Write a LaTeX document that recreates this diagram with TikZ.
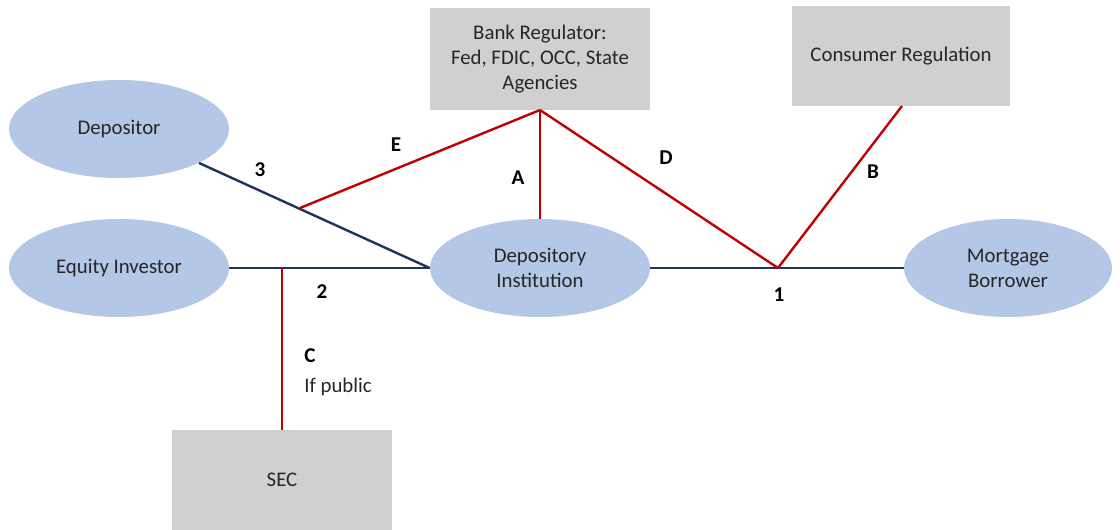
\documentclass[tikz,border=0pt]{standalone}
\usepackage{fontspec}
\setmainfont{Carlito}
\usepackage{xcolor}
\usetikzlibrary{shapes.geometric}

\definecolor{partyblue}{RGB}{180,199,231}
\definecolor{regray}{RGB}{208,208,208}
\definecolor{linkblue}{RGB}{31,50,96}
\definecolor{regred}{RGB}{192,0,0}
\definecolor{txtgray}{RGB}{38,38,38}

\begin{document}
\begin{tikzpicture}[
    x=0.025cm, y=-0.025cm,
    party/.style={ellipse, fill=partyblue, draw=none, inner sep=0pt, align=center,
        minimum width=5.5cm, minimum height=2.45cm, text=txtgray,
        font=\fontsize{14.8}{17.8}\selectfont},
    regbox/.style={rectangle, fill=regray, draw=none, inner sep=0pt, align=center,
        text=txtgray, font=\fontsize{14.8}{17.8}\selectfont},
    link/.style={draw=linkblue, line width=1.7pt},
    reg/.style={draw=regred, line width=1.7pt},
    lbl/.style={text=black, inner sep=0pt, font=\fontsize{15}{17.8}\selectfont\bfseries},
]
    \useasboundingbox (0,0) rectangle (1120,529);

    % Parties
    \node[party] (dep) at (119,129) {Depositor};
    \node[party] (eqi) at (119,268) {Equity Investor};
    \node[party] (inst) at (540,268) {Depository\\Institution};
    \node[party, minimum width=5.2cm] (mort) at (1008,268) {Mortgage\\Borrower};

    % Regulators
    \node[regbox, minimum width=5.5cm, minimum height=2.55cm] (bank) at (540,59) {Bank Regulator:\\Fed, FDIC, OCC, State\\Agencies};
    \node[regbox, minimum width=5.45cm, minimum height=2.5cm] (cons) at (901,56) {Consumer Regulation};
    \node[regbox, minimum width=5.475cm, minimum height=2.5cm] (sec) at (282,480) {SEC};

    % Junctions
    \coordinate (jE) at (300,208);
    \coordinate (jC) at (282,268);
    \coordinate (j1) at (778,268);
    \coordinate (bankfoot) at (540,110);
    \coordinate (consfoot) at (902,106);

    % Relationships
    \draw[link] (dep.-23) -- (inst.west);
    \draw[link] (eqi.east) -- (inst.west);
    \draw[link] (inst.east) -- (mort.west);

    % Regulation
    \draw[reg] (jE) -- (bankfoot);
    \draw[reg] (bankfoot) -- (inst.north);
    \draw[reg] (bankfoot) -- (j1);
    \draw[reg] (j1) -- (consfoot);
    \draw[reg] (jC) -- (sec.north);

    % Labels
    \node[lbl] (l3) at (260,170) {3};
    \node[lbl] (lE) at (396,145) {E};
    \node[lbl] (lA) at (518,178) {A};
    \node[lbl] (lD) at (666,158) {D};
    \node[lbl] (lB) at (873,172) {B};
    \node[lbl] (l2) at (322,292) {2};
    \node[lbl] (l1) at (779,295) {1};
    \node[lbl, anchor=west] (lC) at (304,356) {C};
    \node[anchor=west, inner sep=0pt, text=txtgray, font=\fontsize{14.8}{17.8}\selectfont] (lCtxt) at (304,387) {If public};
\end{tikzpicture}
\end{document}
